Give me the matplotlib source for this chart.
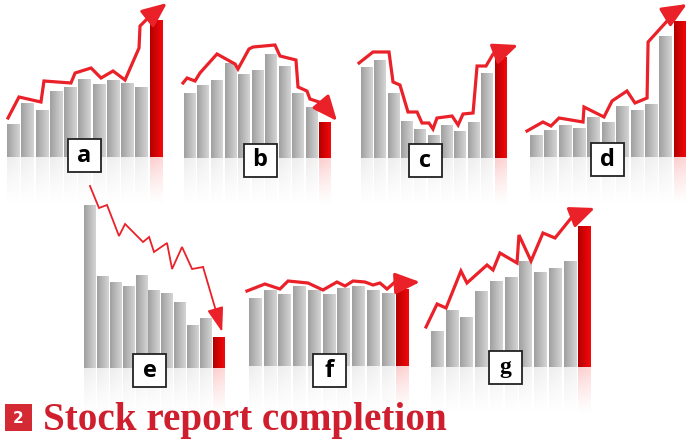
import numpy as np
import matplotlib.pyplot as plt
from matplotlib.patches import Rectangle
from matplotlib.colors import to_rgb

W, H = 686, 448
LINE_RED = '#ea2129'
TITLE_RED = '#cf1f2e'

# bar heights, last bar is the current period (red)
bars_a = [33, 54, 47, 65, 69, 77, 72, 76, 73, 69, 136]
bars_b = [65, 73, 78, 94, 83, 87, 103, 91, 65, 51, 36]
bars_c = [90, 97, 65, 37, 29, 23, 33, 27, 36, 84, 100]
bars_d = [22, 27, 32, 29, 40, 35, 51, 47, 53, 120, 135]
bars_e = [163, 91, 85, 81, 92, 77, 74, 65, 42, 49, 30]
bars_f = [67, 75, 71, 79, 75, 71, 77, 79, 75, 72, 76]
bars_g = [35, 56, 49, 75, 85, 89, 105, 94, 98, 105, 140]

# trend lines: position in bar units, level (last point = arrow tip)
line_a_x = [-0.36, 0.41, 1.95, 2.16, 4.05, 4.34, 5.46, 6.16, 7.0, 7.84, 8.82, 8.89, 9.45, 10.78]
line_a_y = [39, 60, 55, 76, 74, 84, 89, 79, 86, 77, 109, 131, 139, 154]
line_b_x = [-0.5, -0.2, 0.39, 0.75, 2.01, 3.34, 3.56, 4.37, 4.67, 6.29, 6.66, 7.84, 7.99, 8.65, 8.87, 9.76, 10.87]
line_b_y = [75, 80, 77, 85, 104, 94, 89, 109, 111, 113, 102, 98, 71, 67, 59, 55, 37]
line_c_x = [-0.57, 0.47, 1.67, 1.97, 2.49, 3.09, 3.77, 4.14, 4.66, 4.96, 5.26, 6.39, 6.84, 7.21, 7.96, 8.26, 8.93, 9.46, 10.13, 11.33]
line_c_y = [95, 106, 106, 76, 73, 46, 46, 35, 35, 29, 40, 42, 33, 44, 45, 92, 92, 104, 107, 113]
line_d_x = [-0.64, 0.47, 1.03, 1.59, 3.26, 3.33, 4.72, 5.28, 6.32, 6.88, 7.72, 7.79, 9.81, 10.5]
line_d_y = [26, 35, 31, 39, 35, 50, 40, 56, 66, 54, 59, 115, 147, 153]
line_e_x = [0.04, 0.74, 1.36, 2.29, 2.76, 4.15, 4.62, 5.0, 6.01, 6.40, 7.17, 7.95, 8.80, 10.28]
line_e_y = [182, 160, 163, 132, 144, 126, 131, 116, 125, 99, 121, 99, 101, 36]
line_f_x = [-0.57, 0.65, 1.67, 2.22, 3.57, 4.59, 5.54, 6.09, 6.63, 7.44, 7.99, 8.46, 8.94, 9.48, 10.02, 11.18]
line_f_y = [75, 82, 77, 85, 83, 76, 84, 80, 85, 84, 81, 83, 77, 84, 83, 84]
line_g_x = [-0.77, -0.02, 0.59, 1.60, 2.01, 3.37, 3.78, 4.25, 5.41, 5.54, 6.36, 7.17, 7.99, 9.14, 10.70]
line_g_y = [40, 63, 59, 96, 84, 102, 97, 114, 104, 132, 106, 134, 129, 150, 159]

labels = ['a', 'b', 'c', 'd', 'e', 'f', 'g']

# layout in pixels: left, right, baseline, label centre x, label centre y, line width
panels = [
    (bars_a, line_a_x, line_a_y, 6, 163, 157, 84.5, 156, 2.3),
    (bars_b, line_b_x, line_b_y, 183, 332, 158, 260, 160, 2.3),
    (bars_c, line_c_x, line_c_y, 360, 507, 158, 425, 160.5, 2.3),
    (bars_d, line_d_x, line_d_y, 529, 687, 157, 607.5, 159.5, 2.3),
    (bars_e, line_e_x, line_e_y, 83, 225, 368, 149.5, 370.5, 1.3),
    (bars_f, line_f_x, line_f_y, 248, 410, 366, 329, 370.5, 2.3),
    (bars_g, line_g_x, line_g_y, 430, 592, 367, 505, 367.5, 2.3),
]

BELOW, ABOVE, REFL = 60, 190, 48


def shade(c0, c1, n=32):
    t = np.linspace(0, 1, n)[:, None]
    return np.array(to_rgb(c0)) * (1 - t) + np.array(to_rgb(c1)) * t


fig = plt.figure(figsize=(W / 100, H / 100), dpi=100)

for k, (vals, lx, ly, left, right, base, cx, cy, lw) in enumerate(panels):
    ax = fig.add_axes([left / W, 1 - (base + BELOW) / H,
                       (right - left) / W, (BELOW + ABOVE) / H])
    ax.axis('off')
    n = len(vals)
    x = np.arange(n)
    bars = ax.bar(x, vals, width=0.86, color='none', edgecolor='none')
    refl = ax.bar(x, [-REFL] * n, width=0.86, color='none', edgecolor='none')
    for i, (b, r) in enumerate(zip(bars, refl)):
        if i == n - 1:
            cols = shade('#b30000', '#f5080c')
        else:
            cols = shade('#a0a0a0', '#d4d4d4')
        x0, w, h = b.get_x(), b.get_width(), b.get_height()
        ax.imshow(cols[None, :, :], extent=[x0, x0 + w, 0, h],
                  aspect='auto', interpolation='bilinear', zorder=2)
        # fading reflection
        alpha = np.linspace(0.42, 0.0, 40)[:, None] ** 1.3
        if i == n - 1:
            rc = shade('#f06060', '#ff8080')
        else:
            rc = shade('#c4c4c4', '#dcdcdc')
        img = np.zeros((40, 32, 4))
        img[:, :, :3] = rc[None, :, :]
        img[:, :, 3] = alpha
        ax.imshow(img, extent=[x0, x0 + w, -REFL, 0],
                  aspect='auto', interpolation='bilinear', zorder=1)
    ax.set_xlim(-0.5, n - 0.5)
    ax.set_ylim(-BELOW, ABOVE)

    ax.plot(lx[:-1], ly[:-1], color=LINE_RED, lw=lw, solid_joinstyle='miter',
            clip_on=False, zorder=5)
    hl, hw = (15, 6.5) if lw > 2 else (15, 5)
    ax.annotate('', xy=(lx[-1], ly[-1]), xytext=(lx[-2], ly[-2]),
                arrowprops=dict(arrowstyle=f'-|>,head_length={hl},head_width={hw}',
                                mutation_scale=1, color=LINE_RED, lw=lw,
                                shrinkA=0, shrinkB=0),
                annotation_clip=False, zorder=5)

# label boxes
for k, p in enumerate(panels):
    cx, cy = p[6], p[7]
    s = 33
    fig.add_artist(Rectangle(((cx - s / 2) / W, 1 - (cy + s / 2) / H), s / W, s / H,
                             transform=fig.transFigure, facecolor='white',
                             edgecolor='#222222', lw=1.3, zorder=10))
    fam = 'Liberation Serif' if labels[k] == 'g' else 'Open Sans'
    fig.text(cx / W, 1 - cy / H, labels[k], ha='center', va='center',
             fontsize=17, fontweight='bold', family=fam, color='black', zorder=11)

# title
fig.add_artist(Rectangle((5 / W, 1 - 431 / H), 27 / W, 27 / H,
                         transform=fig.transFigure, facecolor='#d42a33',
                         edgecolor='none', zorder=10))
fig.text(18.5 / W, 1 - 418 / H, '2', ha='center', va='center', fontsize=11,
         fontweight='bold', family='DejaVu Sans', color='white', zorder=11)
fig.text(43 / W, 1 - 430 / H, 'Stock report completion', ha='left', va='baseline',
         fontsize=28.2, fontweight='bold', family='Liberation Serif',
         color=TITLE_RED, zorder=11)

fig.savefig('out.png', dpi=100, facecolor='white')
